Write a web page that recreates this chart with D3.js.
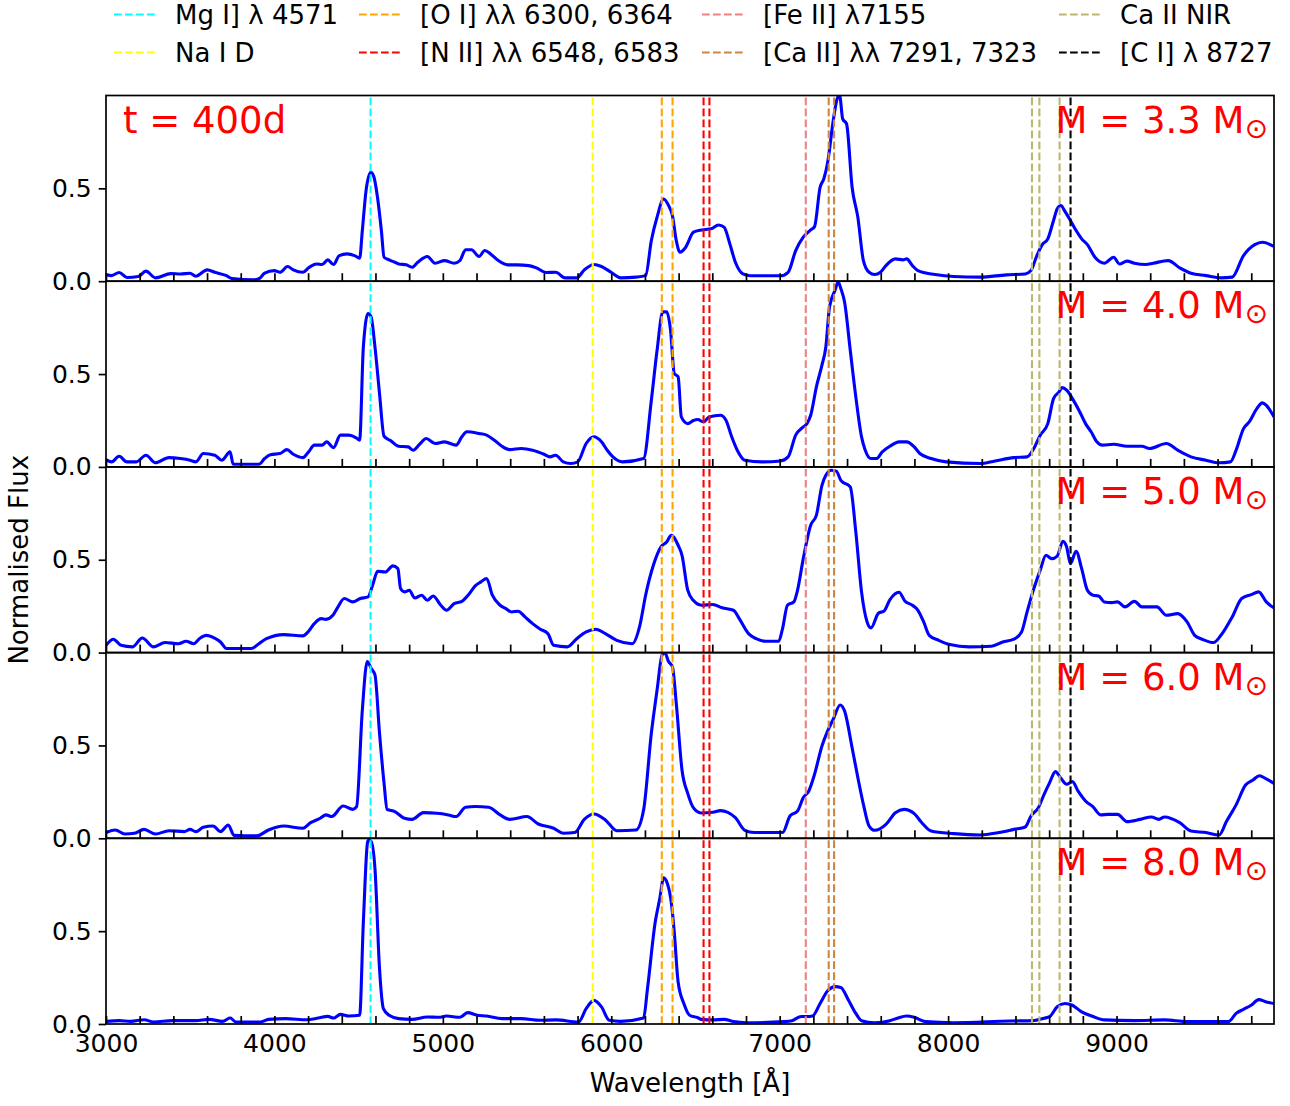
<!DOCTYPE html>
<html>
<head>
<meta charset="utf-8">
<script src="https://cdn.jsdelivr.net/npm/d3@7"></script>
<style>
  body { margin: 0; background: #fff; }
  text { font-family: "DejaVu Sans", sans-serif; }
</style>
</head>
<body>
<svg id="chart" width="1290" height="1106"></svg>
<script>
// ---- data ----
const masses = ['3.3', '4.0', '5.0', '6.0', '8.0'];

const wave33 = [3000,3033,3078,3124,3192,3237,3294,3385,3442,3499,3533,3601,3646,3715,3749,3874,3908,3942,3999,4033,4078,4112,4169,4203,4249,4283,4317,4351,4385,4431,4476,4506,4522,4544,4572,4590,4612,4635,4651,4681,4715,4738,4783,4817,4851,4908,4954,5010,5067,5101,5135,5170,5215,5249,5283,5329,5386,5442,5510,5556,5613,5670,5726,5795,5840,5897,5942,5999,6056,6147,6204,6238,6272,6311,6340,6363,6386,6408,6442,6488,6536,6592,6637,6670,6704,6737,6782,6827,7005,7050,7095,7140,7184,7207,7240,7262,7285,7318,7341,7356,7374,7397,7430,7464,7497,7531,7564,7598,7631,7687,7732,7754,7788,7821,7922,8033,8190,8346,8458,8492,8525,8559,8592,8626,8648,8670,8693,8726,8760,8793,8827,8872,8928,8983,9017,9062,9106,9173,9218,9307,9375,9442,9531,9620,9687,9754,9821,9866,9935];
const flux33 = [.036,.030,.047,.020,.025,.054,.018,.041,.039,.043,.027,.061,.048,.030,.014,.007,.013,.043,.057,.048,.079,.061,.048,.072,.093,.090,.115,.090,.138,.147,.138,.124,.273,.488,.587,.564,.452,.273,.129,.115,.102,.093,.088,.075,.102,.133,.097,.111,.097,.111,.169,.169,.133,.165,.147,.111,.088,.088,.084,.072,.047,.048,.018,.018,.061,.090,.079,.048,.018,.022,.030,.219,.345,.443,.408,.354,.219,.156,.183,.264,.276,.282,.303,.291,.201,.102,.039,.029,.029,.048,.165,.237,.276,.294,.506,.551,.641,.865,.982,1.0,.874,.847,.506,.345,.111,.048,.036,.048,.084,.120,.115,.120,.084,.057,.036,.025,.022,.034,.039,.057,.133,.197,.228,.327,.390,.408,.377,.327,.273,.228,.197,.129,.097,.129,.093,.108,.097,.090,.097,.111,.072,.043,.030,.018,.022,.138,.197,.210,.187];

const wave40 = [3000,3033,3078,3124,3180,3237,3294,3374,3442,3499,3533,3578,3646,3687,3737,3755,3908,3942,3976,4033,4074,4112,4169,4203,4237,4283,4310,4351,4392,4442,4483,4506,4528,4556,4574,4597,4624,4651,4692,4738,4794,4824,4862,4901,4954,5010,5079,5113,5142,5215,5260,5306,5351,5397,5465,5533,5601,5636,5670,5715,5760,5801,5851,5897,5942,5976,6010,6067,6192,6238,6272,6306,6329,6352,6374,6397,6416,6454,6488,6514,6547,6581,6648,6681,6715,6748,6793,6894,7005,7050,7095,7140,7162,7184,7218,7251,7274,7296,7329,7347,7363,7385,7419,7452,7486,7508,7542,7575,7609,7654,7709,7754,7799,7832,7899,7989,8190,8279,8391,8469,8503,8547,8592,8626,8659,8677,8704,8738,8782,8816,8849,8883,8916,8983,9062,9151,9196,9296,9363,9442,9531,9609,9676,9710,9754,9788,9833,9866,9889,9935];
const flux40 = [.039,.027,.057,.027,.027,.063,.022,.050,.045,.036,.027,.072,.063,.036,.081,.014,.014,.045,.066,.072,.093,.068,.050,.081,.117,.117,.135,.104,.171,.171,.158,.144,.646,.826,.808,.646,.395,.165,.140,.111,.108,.090,.122,.153,.126,.135,.117,.162,.189,.180,.171,.144,.111,.093,.099,.090,.068,.054,.063,.027,.018,.027,.126,.162,.135,.090,.054,.027,.045,.359,.628,.835,.835,.736,.503,.485,.269,.233,.250,.255,.242,.269,.278,.251,.162,.090,.036,.027,.032,.054,.171,.215,.233,.278,.431,.548,.646,.862,.952,.996,.961,.889,.628,.377,.162,.090,.045,.045,.081,.111,.135,.135,.108,.072,.045,.027,.018,.032,.050,.054,.090,.171,.233,.368,.404,.427,.413,.368,.296,.233,.189,.135,.117,.122,.111,.111,.099,.126,.090,.054,.036,.022,.027,.090,.206,.242,.314,.345,.332,.269];

const wave50 = [3000,3044,3089,3158,3215,3283,3351,3430,3476,3521,3560,3596,3642,3680,3715,3862,3908,3953,4056,4169,4203,4237,4278,4306,4347,4374,4415,4465,4510,4556,4583,4613,4658,4703,4733,4749,4772,4801,4833,4874,4908,4942,4988,5022,5067,5113,5158,5192,5226,5260,5294,5340,5374,5408,5447,5488,5533,5579,5624,5658,5738,5795,5851,5908,5965,6033,6124,6170,6204,6250,6295,6329,6356,6397,6420,6454,6488,6536,6603,6659,6726,6760,6815,6860,6916,6994,7017,7046,7084,7106,7140,7184,7218,7251,7274,7307,7336,7363,7419,7452,7486,7519,7542,7586,7620,7654,7709,7743,7788,7821,7855,7888,7944,8011,8123,8257,8324,8391,8436,8469,8503,8547,8581,8615,8648,8682,8704,8726,8760,8793,8827,8861,8894,8927,8972,9006,9050,9106,9151,9240,9296,9363,9419,9464,9509,9576,9620,9687,9743,9799,9844,9889,9935];
const flux50 = [.039,.072,.039,.031,.079,.031,.054,.048,.061,.048,.079,.093,.079,.057,.022,.022,.048,.075,.097,.090,.115,.156,.183,.179,.201,.241,.291,.273,.291,.300,.363,.438,.434,.467,.452,.345,.327,.336,.294,.309,.282,.305,.255,.228,.264,.276,.318,.359,.381,.399,.309,.255,.237,.219,.223,.192,.156,.126,.102,.039,.031,.075,.111,.126,.102,.066,.048,.147,.309,.470,.569,.596,.632,.578,.524,.336,.280,.255,.259,.241,.228,.183,.102,.075,.061,.061,.129,.255,.273,.336,.506,.686,.740,.901,.955,.982,.977,.928,.892,.650,.327,.165,.133,.212,.224,.284,.325,.278,.255,.228,.165,.093,.066,.043,.031,.034,.057,.072,.111,.219,.327,.444,.524,.506,.520,.600,.569,.479,.546,.452,.336,.309,.305,.273,.269,.273,.246,.276,.246,.246,.201,.210,.165,.093,.072,.054,.093,.192,.291,.312,.327,.273,.241];

const wave60 = [3000,3055,3112,3169,3226,3294,3374,3465,3499,3533,3578,3635,3680,3726,3760,3896,3965,4056,4169,4215,4272,4306,4340,4408,4465,4488,4522,4551,4574,4597,4624,4651,4669,4715,4772,4817,4885,4965,5033,5079,5135,5192,5272,5340,5397,5499,5567,5658,5715,5783,5840,5897,5965,6033,6147,6192,6238,6272,6302,6318,6340,6363,6386,6420,6454,6491,6536,6603,6648,6692,6737,6793,6849,7017,7061,7106,7140,7173,7207,7251,7285,7318,7359,7385,7430,7464,7497,7531,7564,7631,7687,7739,7799,7844,7899,8033,8190,8302,8391,8458,8492,8536,8570,8603,8637,8670,8704,8738,8771,8816,8861,8905,8950,9006,9062,9140,9207,9251,9285,9375,9442,9531,9609,9654,9710,9766,9810,9848,9889,9935];
const flux60 = [.031,.045,.023,.027,.048,.023,.041,.036,.048,.036,.059,.066,.036,.072,.016,.013,.045,.066,.054,.084,.108,.126,.117,.174,.156,.171,.691,.952,.916,.880,.566,.296,.156,.144,.108,.102,.138,.135,.126,.117,.167,.171,.167,.126,.102,.117,.077,.054,.027,.031,.102,.131,.099,.041,.045,.153,.566,.799,.987,1.0,.952,.925,.727,.368,.242,.160,.136,.140,.149,.140,.111,.043,.031,.031,.120,.147,.219,.255,.345,.497,.578,.641,.718,.686,.488,.327,.183,.066,.043,.075,.138,.156,.133,.084,.039,.025,.018,.031,.048,.061,.120,.165,.237,.300,.359,.323,.291,.305,.255,.201,.169,.126,.129,.129,.090,.102,.115,.102,.115,.084,.039,.031,.018,.093,.180,.287,.314,.337,.320,.296];

const wave80 = [3000,3078,3146,3226,3283,3396,3533,3612,3692,3737,3771,3919,3965,4067,4192,4260,4317,4351,4392,4442,4506,4528,4556,4574,4597,4624,4647,4681,4738,4817,4908,4976,5022,5101,5147,5204,5260,5351,5465,5579,5670,5806,5851,5897,5942,5988,6056,6192,6215,6261,6288,6311,6333,6356,6374,6397,6431,6465,6511,6536,6603,6670,6726,6804,7028,7073,7128,7162,7195,7240,7285,7329,7363,7408,7452,7486,7564,7654,7698,7754,7799,7866,8033,8369,8503,8570,8603,8648,8693,8738,8793,8861,8927,9106,9285,9419,9665,9710,9754,9799,9844,9889,9935];
const flux80 = [.014,.018,.014,.023,.011,.018,.018,.025,.014,.032,.011,.011,.025,.029,.023,.032,.041,.032,.052,.043,.047,.549,.989,.984,.837,.298,.083,.047,.029,.025,.038,.036,.043,.036,.061,.047,.043,.029,.029,.020,.022,.011,.083,.127,.092,.020,.014,.032,.190,.549,.675,.787,.757,.657,.496,.226,.110,.047,.035,.025,.022,.025,.013,.007,.013,.018,.040,.040,.043,.110,.179,.201,.197,.129,.057,.018,.007,.018,.031,.043,.036,.013,.007,.016,.018,.031,.040,.093,.110,.101,.065,.040,.022,.018,.022,.013,.013,.057,.079,.101,.131,.119,.110];

const waves = [wave33, wave40, wave50, wave60, wave80];
const fluxes = [flux33, flux40, flux50, flux60, flux80];

// marked emission lines
const lineLabels = ['Mg I] λ 4571', 'Na I D', '[O I] λλ 6300, 6364', '[N II] λλ 6548, 6583',
                    '[Fe II] λ7155', '[Ca II] λλ 7291, 7323', 'Ca II NIR', '[C I] λ 8727'];
const lineWaves = [[4571], [5890], [6300, 6364], [6548, 6583], [7155], [7291, 7323], [8498, 8542, 8662], [8727]];
const lineColors = ['#00ffff', '#ffff00', '#ffa500', '#ff0000', '#f08080', '#cd853f', '#bdb76b', '#000000'];

const xTickValues = d3.range(3000, 9935, 200);
const yTickValues = [0, 0.5];

// ---- layout ----
const svg = d3.select('#chart');
const plot = {left: 106, right: 1274, top: 95.5, panelH: 185.7};
const fontSize = 25;

const x = d3.scaleLinear().domain([3000, 9935]).range([plot.left, plot.right]);

const line = d3.line()
    .x(d => x(d.w))
    .y(d => d.yPix)
    .curve(d3.curveMonotoneX);

masses.forEach((m, i) => {
    const top = plot.top + i * plot.panelH;
    const bottom = top + plot.panelH;
    const y = d3.scaleLinear().domain([0, 1]).range([bottom, top]);

    const g = svg.append('g').classed('panel', true);

    g.append('clipPath').attr('id', `clip${i}`)
        .append('rect')
        .attr('x', plot.left).attr('y', top)
        .attr('width', plot.right - plot.left).attr('height', plot.panelH);

    const body = g.append('g').attr('clip-path', `url(#clip${i})`);

    const pts = waves[i].map((w, j) => ({w: w, yPix: y(fluxes[i][j])}));
    body.append('path')
        .datum(pts)
        .attr('d', line)
        .style('fill', 'none')
        .style('stroke', '#0000ff')
        .style('stroke-width', 3.1)
        .style('stroke-linejoin', 'round');

    lineWaves.forEach((ws, k) => {
        body.selectAll(null)
            .data(ws)
            .enter().append('line')
            .attr('x1', d => x(d)).attr('x2', d => x(d))
            .attr('y1', y(0)).attr('y2', y(1))
            .style('stroke', lineColors[k])
            .style('stroke-width', 2.1)
            .style('stroke-dasharray', '7.7,3.3');
    });

    const last = i === masses.length - 1;
    const xAxis = g.append('g')
        .attr('transform', `translate(0,${bottom})`)
        .call(d3.axisBottom(x)
            .tickValues(xTickValues)
            .tickSize(-8)
            .tickPadding(10)
            .tickFormat(d => (last && d % 1000 === 0) ? d : ''));

    const yAxis = g.append('g')
        .attr('transform', `translate(${plot.left},0)`)
        .call(d3.axisLeft(y)
            .tickValues(yTickValues)
            .tickSize(7.3)
            .tickPadding(7)
            .tickFormat(d3.format('.1f')));

    [xAxis, yAxis].forEach(a => {
        a.select('.domain').remove();
        a.selectAll('line').style('stroke', '#000').style('stroke-width', 1.7);
        a.selectAll('text').style('font-size', fontSize + 'px').style('fill', '#000')
            .style('font-family', '"DejaVu Sans", sans-serif');
    });

    g.append('rect')
        .attr('x', plot.left).attr('y', top)
        .attr('width', plot.right - plot.left).attr('height', plot.panelH)
        .style('fill', 'none').style('stroke', '#000').style('stroke-width', 1.7);

    const lab = g.append('text')
        .attr('x', 1268).attr('y', top + 37)
        .attr('text-anchor', 'end')
        .style('font-size', '37px').style('fill', '#ff0000');
    lab.append('tspan').text(`M = ${m} M`);
    lab.append('tspan').attr('dy', 5).style('font-size', '28px').text('⊙');

    if (i === 0) {
        g.append('text')
            .attr('x', 123).attr('y', top + 37.5)
            .style('font-size', '37px').style('fill', '#ff0000')
            .text('t = 400d');
    }
});

// axis titles
svg.append('text')
    .attr('x', (plot.left + plot.right) / 2).attr('y', 1092)
    .attr('text-anchor', 'middle')
    .style('font-size', '26px')
    .text('Wavelength [Å]');

svg.append('text')
    .attr('transform', `translate(28,${plot.top + 2.5 * plot.panelH}) rotate(-90)`)
    .attr('text-anchor', 'middle')
    .style('font-size', '26px')
    .text('Normalised Flux');

// legend: 4 columns, 2 rows, filled column by column
const legendTextX = [175, 420, 763, 1120];
const legendRowY = [23.5, 61.5];
const legend = svg.append('g').classed('legend', true);
lineLabels.forEach((lbl, k) => {
    const col = Math.floor(k / 2), row = k % 2;
    const tx = legendTextX[col], ty = legendRowY[row];
    legend.append('line')
        .attr('x1', tx - 61).attr('x2', tx - 19)
        .attr('y1', ty - 9).attr('y2', ty - 9)
        .style('stroke', lineColors[k])
        .style('stroke-width', 2.1)
        .style('stroke-dasharray', '7.7,3.3');
    legend.append('text')
        .attr('x', tx).attr('y', ty)
        .style('font-size', '26px')
        .text(lbl);
});
</script>
</body>
</html>
